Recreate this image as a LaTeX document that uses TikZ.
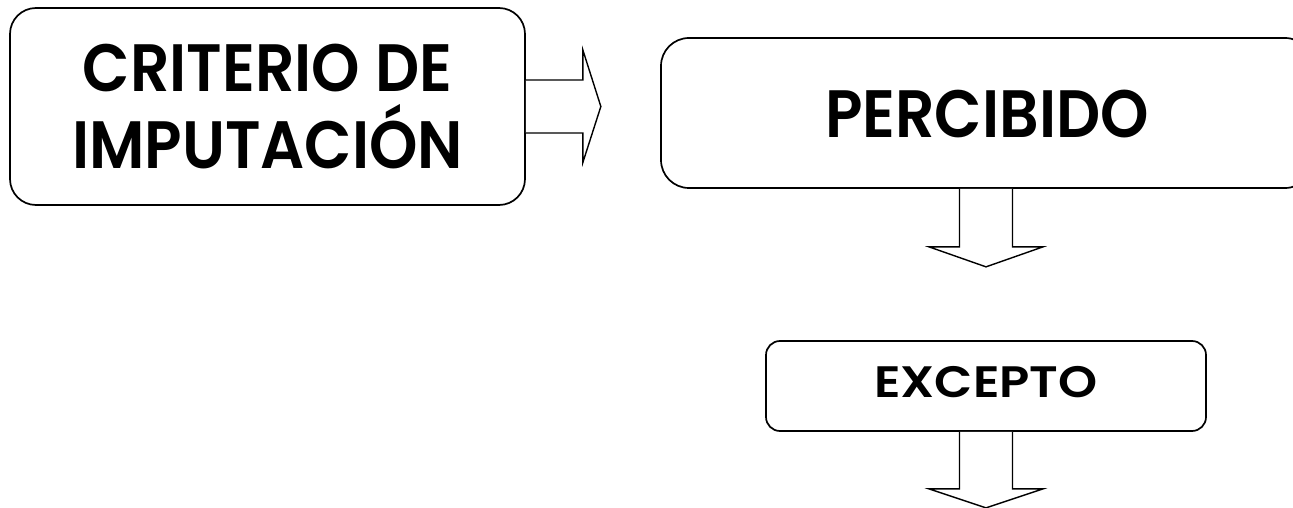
\documentclass[tikz,border=0pt]{standalone}
\usepackage{fontspec}
\setmainfont{Poppins}
\newfontfamily\bigface{Poppins SemiBold}[FakeStretch=0.92]
\newfontfamily\smallface{Poppins SemiBold}[FakeStretch=1.13]
\usetikzlibrary{calc}
\begin{document}
\begin{tikzpicture}[x=1pt,y=-1pt,
  box/.style={draw, line width=1.7pt, rounded corners=#1, inner sep=0pt, align=center},
  bigtext/.style={font=\bigface\fontsize{67}{77}\selectfont},
  smalltext/.style={font=\smallface\fontsize{44}{50}\selectfont},
  blk/.style={draw, line width=1.4pt, line join=miter, fill=white}
]
\useasboundingbox (0,0) rectangle (1293,508);
\clip (0,0) rectangle (1293,508);

% boxes
\node[box=26pt, bigtext, minimum width=515pt, minimum height=197pt]
  (crit) at (267.5,106.5) {CRITERIO DE\\IMPUTACIÓN};
\node[box=28pt, bigtext, minimum width=652pt, minimum height=150pt, text height=50pt]
  (perc) at (987,113) {PERCIBIDO};
\node[box=14pt, smalltext, minimum width=440pt, minimum height=90pt, text depth=8pt]
  (exc) at (986,386) {EXCEPTO};

% block arrow to the right
\draw[blk] ($(crit.east)+(0,-26.5)$) -- ++(57,0) -- ++(0,-30)
  -- ($(crit.east)+(75,0)$) -- ($(crit.east)+(57,56)$) -- ++(0,-29.5)
  -- ($(crit.east)+(0,26.5)$);

% block arrow down from PERCIBIDO
\coordinate (p) at (perc.south -| exc.north);
\draw[blk] ($(p)+(-26.5,0)$) -- ++(0,58) -- ++(-30.5,0)
  -- ($(p)+(0,78)$) -- ($(p)+(57,58)$) -- ++(-30.5,0)
  -- ($(p)+(26.5,0)$);

% block arrow down from EXCEPTO
\draw[blk] ($(exc.south)+(-26.5,0)$) -- ++(0,57) -- ++(-30.5,0)
  -- ($(exc.south)+(0,76)$) -- ($(exc.south)+(57,57)$) -- ++(-30.5,0)
  -- ($(exc.south)+(26.5,0)$);
\end{tikzpicture}
\end{document}
